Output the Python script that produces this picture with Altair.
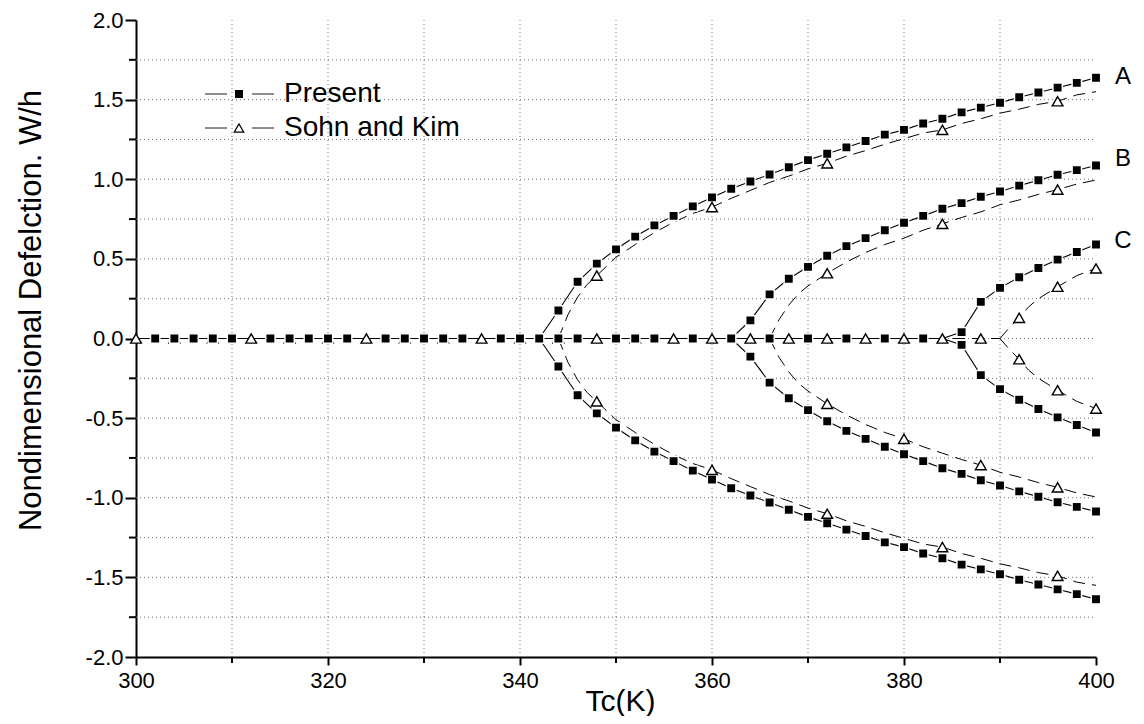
import altair as alt
import pandas as pd

# ---------------- data ----------------
# Present (filled squares), branch curves A, B, C (upper and lower)
PA_T = [342, 344, 346, 348, 350, 352, 354, 356, 358, 360, 362, 364, 366, 368, 370,
        372, 374, 376, 378, 380, 382, 384, 386, 388, 390, 392, 394, 396, 398, 400]
PA_up = [0.0, 0.176, 0.356, 0.47, 0.56, 0.64, 0.71, 0.77, 0.83, 0.886, 0.94, 0.986, 1.03, 1.075, 1.12,
         1.16, 1.20, 1.24, 1.28, 1.31, 1.35, 1.38, 1.42, 1.45, 1.48, 1.515, 1.545, 1.575, 1.605, 1.637]
PA_low = [0.0, -0.176, -0.356, -0.47, -0.56, -0.64, -0.71, -0.77, -0.83, -0.886, -0.94, -0.986, -1.03, -1.075, -1.12,
          -1.16, -1.20, -1.24, -1.28, -1.31, -1.35, -1.38, -1.42, -1.45, -1.48, -1.515, -1.545, -1.575, -1.605, -1.637]

PB_T = [362, 364, 366, 368, 370, 372, 374, 376, 378, 380, 382, 384, 386, 388, 390, 392, 394, 396, 398, 400]
PB_up = [0.0, 0.114, 0.277, 0.375, 0.45, 0.52, 0.58, 0.63, 0.68, 0.727, 0.77, 0.815, 0.85, 0.89, 0.923,
         0.96, 0.994, 1.028, 1.057, 1.086]
PB_low = [0.0, -0.114, -0.277, -0.375, -0.45, -0.52, -0.58, -0.63, -0.68, -0.727, -0.77, -0.815, -0.85, -0.89, -0.923,
          -0.96, -0.994, -1.028, -1.057, -1.086]

PC_T = [384, 386, 388, 390, 392, 394, 396, 398, 400]
PC_up = [0.0, 0.04, 0.23, 0.318, 0.385, 0.443, 0.495, 0.543, 0.59]
PC_low = [0.0, -0.04, -0.23, -0.318, -0.385, -0.443, -0.495, -0.543, -0.59]

# Present trivial (zero) branch
PZ_T = [300, 384]
PZ_W = [0.0, 0.0]
# squares visible on the zero line
PZ_sq_T = [302, 304, 306, 308, 310, 314, 316, 318, 320, 322, 326, 328, 330, 332, 334, 338, 340,
           342, 344, 346, 350, 352, 354, 358, 362, 366, 370, 374, 378, 382]

# Sohn and Kim (open triangles, dashed)
SA_T = [344, 345, 346, 347, 348, 350, 352, 354, 356, 358, 360, 362, 364, 366, 368, 370,
        372, 374, 376, 378, 380, 382, 384, 386, 388, 390, 392, 394, 396, 398, 400]
SA_up = [0.0, 0.15, 0.26, 0.34, 0.395, 0.51, 0.59, 0.665, 0.73, 0.785, 0.825, 0.88, 0.93, 0.98, 1.02, 1.065,
         1.10, 1.145, 1.18, 1.22, 1.255, 1.29, 1.31, 1.35, 1.38, 1.415, 1.44, 1.47, 1.49, 1.53, 1.55]
SA_low = [0.0, -0.15, -0.26, -0.34, -0.395, -0.51, -0.59, -0.665, -0.73, -0.785, -0.825, -0.88, -0.93, -0.98, -1.02, -1.065,
          -1.10, -1.145, -1.18, -1.22, -1.255, -1.29, -1.31, -1.35, -1.38, -1.415, -1.44, -1.47, -1.49, -1.53, -1.55]

SB_T = [366, 367, 368, 369, 370, 372, 374, 376, 378, 380, 382, 384, 386, 388, 390, 392, 394, 396, 398, 400]
SB_up = [0.0, 0.12, 0.21, 0.28, 0.33, 0.41, 0.48, 0.54, 0.59, 0.63, 0.68, 0.72, 0.76, 0.795, 0.84,
         0.87, 0.905, 0.935, 0.97, 0.995]
SB_low = [0.0, -0.12, -0.21, -0.28, -0.33, -0.41, -0.48, -0.54, -0.59, -0.63, -0.68, -0.72, -0.76, -0.795, -0.84,
          -0.87, -0.905, -0.935, -0.97, -0.995]

SC_T = [390, 391, 392, 393, 394, 396, 398, 400]
SC_up = [0.0, 0.07, 0.13, 0.20, 0.25, 0.325, 0.395, 0.44]
SC_low = [0.0, -0.07, -0.13, -0.20, -0.25, -0.325, -0.395, -0.44]

SZ_T = [300, 390]
SZ_W = [0.0, 0.0]

# triangle markers
SA_mk_T = [348, 360, 372, 384, 396]
SA_mk_up = [0.395, 0.825, 1.10, 1.31, 1.49]
SA_mk_low = [-0.395, -0.825, -1.10, -1.31, -1.49]
SB_mk_up_T = [372, 384, 396]
SB_mk_up = [0.41, 0.72, 0.935]
SB_mk_low_T = [372, 380, 388, 396]
SB_mk_low = [-0.41, -0.63, -0.795, -0.935]
SC_mk_T = [392, 396, 400]
SC_mk_up = [0.13, 0.325, 0.44]
SC_mk_low = [-0.13, -0.325, -0.44]
SZ_mk_over_T = [300, 312, 324, 336, 348, 356, 360, 364, 368, 372, 376, 380, 384, 388]
SZ_mk_under_T = [304, 308, 316, 320, 328, 332, 340, 344, 352]

# curve labels
lab_text = ["A", "B", "C"]
lab_T = [402.8, 402.8, 402.8]
lab_W = [1.643, 1.13, 0.61]

# axes / grid
x_major = [300, 320, 340, 360, 380, 400]
x_minor = [310, 330, 350, 370, 390]
x_grid = [310, 320, 330, 340, 350, 360, 370, 380, 390]
y_major = [-2.0, -1.5, -1.0, -0.5, 0.0, 0.5, 1.0, 1.5, 2.0]
y_minor = [-1.75, -1.25, -0.75, -0.25, 0.25, 0.75, 1.25, 1.75]
y_grid = [-1.75, -1.5, -1.25, -1.0, -0.75, -0.5, -0.25, 0.0, 0.25, 0.5, 0.75, 1.0, 1.25, 1.5, 1.75]

# legend
leg_text = ["Present", "Sohn and Kim"]
leg_shape = ["square", "triangle-up"]

# ---------------- tables ----------------
def table(series_list):
    rows = []
    for curve, Ts, Ws in series_list:
        for t, w in zip(Ts, Ws):
            rows.append({"curve": curve, "T": t, "W": w})
    return pd.DataFrame(rows)

present_lines = table([("z", PZ_T, PZ_W), ("au", PA_T, PA_up), ("al", PA_T, PA_low),
                       ("bu", PB_T, PB_up), ("bl", PB_T, PB_low),
                       ("cu", PC_T, PC_up), ("cl", PC_T, PC_low)])
sohn_lines = table([("z", SZ_T, SZ_W), ("au", SA_T, SA_up), ("al", SA_T, SA_low),
                    ("bu", SB_T, SB_up), ("bl", SB_T, SB_low),
                    ("cu", SC_T, SC_up), ("cl", SC_T, SC_low)])
squares = table([("z", PZ_sq_T, [0.0] * len(PZ_sq_T)),
                 ("au", PA_T[1:], PA_up[1:]), ("al", PA_T[1:], PA_low[1:]),
                 ("bu", PB_T[1:], PB_up[1:]), ("bl", PB_T[1:], PB_low[1:]),
                 ("cu", PC_T[1:], PC_up[1:]), ("cl", PC_T[1:], PC_low[1:])])
tri_over = table([("z", SZ_mk_over_T, [0.0] * len(SZ_mk_over_T)),
                  ("au", SA_mk_T, SA_mk_up), ("al", SA_mk_T, SA_mk_low),
                  ("bu", SB_mk_up_T, SB_mk_up), ("bl", SB_mk_low_T, SB_mk_low),
                  ("cu", SC_mk_T, SC_mk_up), ("cl", SC_mk_T, SC_mk_low)])
tri_under = table([("z", SZ_mk_under_T, [0.0] * len(SZ_mk_under_T))])

labels = pd.DataFrame({"T": lab_T, "W": lab_W, "txt": lab_text})
xgrid_df = pd.DataFrame({"T": x_grid})
ygrid_df = pd.DataFrame({"W": y_grid})
xminor_df = pd.DataFrame({"T": x_minor})
yminor_df = pd.DataFrame({"W": y_minor})

W_PX, H_PX = 960, 637
FONT = "Liberation Sans, Arial, sans-serif"

xs = alt.Scale(domain=[300, 400], nice=False, zero=False)
ys = alt.Scale(domain=[-2, 2], nice=False, zero=False)

x_axis = alt.Axis(values=x_major, format=".0f", labelFont=FONT, labelFontSize=22,
                  labelColor="black", labelPadding=5, tickSize=8, tickWidth=2, tickColor="black",
                  domainColor="black", domainWidth=2, grid=False, labelFlush=False,
                  title="Tc(K)", titleFont=FONT, titleFontSize=30, titleFontWeight="normal",
                  titleColor="black", titleY=44, titleX=484, titleBaseline="middle")
y_axis = alt.Axis(values=y_major, labelExpr="replace(format(datum.value, '.1f'), '\u2212', '-')",
                  labelFont=FONT, labelFontSize=22, labelColor="black", labelPadding=2,
                  tickSize=11, tickWidth=2, tickColor="black", domainColor="black", domainWidth=2,
                  grid=False, labelFlush=False,
                  title="Nondimensional Defelction. W/h", titleFont=FONT, titleFontSize=31,
                  titleFontWeight="normal", titleColor="black", titleX=-105, titleY=290,
                  titleBaseline="middle")

X = alt.X("T:Q", scale=xs, axis=x_axis)
Y = alt.Y("W:Q", scale=ys, axis=y_axis)

grid_v = alt.Chart(xgrid_df).mark_rule(color="#707070", strokeWidth=1, strokeDash=[1, 3]).encode(
    x=X, y=alt.value(0), y2=alt.value(H_PX))
grid_h = alt.Chart(ygrid_df).mark_rule(color="#707070", strokeWidth=1, strokeDash=[1, 3]).encode(
    y=Y, x=alt.value(0), x2=alt.value(W_PX))

minor_x = alt.Chart(xminor_df).mark_rule(color="black", strokeWidth=2).encode(
    x=X, y=alt.value(H_PX), y2=alt.value(H_PX + 6))
minor_y = alt.Chart(yminor_df).mark_rule(color="black", strokeWidth=2).encode(
    y=Y, x=alt.value(0), x2=alt.value(-7))

sohn_line = alt.Chart(sohn_lines).mark_line(color="black", strokeWidth=1, strokeDash=[12, 7]).encode(
    x=X, y=Y, detail="curve:N")
present_line = alt.Chart(present_lines).mark_line(color="black", strokeWidth=1.1).encode(
    x=X, y=Y, detail="curve:N")

tri_u = alt.Chart(tri_under).mark_point(shape="triangle-up", size=115, filled=True, fill="white",
                                        stroke="black", strokeWidth=1.4, opacity=1).encode(x=X, y=Y)
sq = alt.Chart(squares).mark_point(shape="square", size=88, filled=True, fill="black",
                                   stroke="white", strokeWidth=1.5, opacity=1).encode(x=X, y=Y)
tri_o = alt.Chart(tri_over).mark_point(shape="triangle-up", size=115, filled=True, fill="white",
                                       stroke="black", strokeWidth=1.4, opacity=1).encode(x=X, y=Y)

lab = alt.Chart(labels).mark_text(font=FONT, fontSize=24, color="black", align="center",
                                  baseline="middle").encode(x=X, y=Y, text="txt:N")

# legend (pixel positions inside the plot area)
leg_seg = pd.DataFrame({"x1": [69, 116, 69, 116], "x2": [91, 138, 91, 138],
                        "y": [74, 74, 108, 108]})
leg_pts = pd.DataFrame({"x": [103, 103], "y": [74, 108], "txt": leg_text})
leg_lines = alt.Chart(leg_seg).mark_rule(color="#404040", strokeWidth=1.2).encode(
    x=alt.X("x1:Q", scale=None), x2="x2:Q", y=alt.Y("y:Q", scale=None))
leg_sq = alt.Chart(leg_pts.iloc[[0]]).mark_point(shape=leg_shape[0], size=64, filled=True, fill="black",
                                                 opacity=1).encode(
    x=alt.X("x:Q", scale=None), y=alt.Y("y:Q", scale=None))
leg_tri = alt.Chart(leg_pts.iloc[[1]]).mark_point(shape=leg_shape[1], size=90, filled=True, fill="white",
                                                  stroke="black", strokeWidth=1.2, opacity=1).encode(
    x=alt.X("x:Q", scale=None), y=alt.Y("y:Q", scale=None))
leg_txt = alt.Chart(leg_pts).mark_text(font=FONT, fontSize=28, color="black", align="left",
                                       baseline="middle", dx=45).encode(
    x=alt.X("x:Q", scale=None), y=alt.Y("y:Q", scale=None), text="txt:N")

chart = alt.layer(
    grid_v, grid_h, minor_x, minor_y, sohn_line, present_line, tri_u, sq, tri_o, lab,
    leg_lines, leg_sq, leg_tri, leg_txt
).properties(
    width=W_PX, height=H_PX,
    autosize=alt.AutoSizeParams(type="none"),
    padding={"left": 128, "top": 12, "right": 40, "bottom": 59},
    background="white",
).configure_view(stroke=None)

chart.save("out.html", embed_options={"renderer": "svg", "actions": False})
